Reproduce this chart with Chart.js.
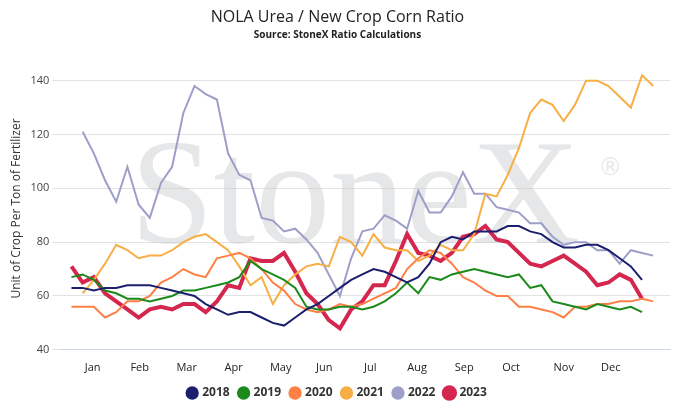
<!DOCTYPE html>
<html><head><meta charset="utf-8">
<script src="https://cdn.jsdelivr.net/npm/chart.js@4"></script>
<style>body{margin:0;background:#fff}#w{width:700px;height:415px}</style>
</head><body><div id="w"><canvas id="c"></canvas></div>
<script>
// weekly ratios, x = week number
const monthLabels = ['Jan','Feb','Mar','Apr','May','Jun','Jul','Aug','Sep','Oct','Nov','Dec'];
const monthWeeks = [2.9, 7.1, 11.3, 15.5, 19.7, 23.6, 27.7, 31.9, 36.1, 40.3, 45, 49.2];

const r2018 = [63,63,62,63,63,64,64,64,63,62,61,60,57,55,53,54,54,52,50,49,52,55,57,60,63,66,68,70,69,67,65,67,72,80,82,81,84,84,84,86,86,84,83,80,78,78,79,79,77,74,71,66];
const r2019 = [67,68,66,62,61,59,59,58,59,60,62,62,63,64,65,67,73,70,68,66,63,56,55,55,56,56,55,56,58,61,65,61,67,66,68,69,70,69,68,67,68,63,64,58,57,56,55,57,56,55,56,54];
const r2020 = [56,56,56,52,54,58,58,60,65,67,70,68,67,74,75,76,74,70,65,62,57,55,54,55,57,56,57,59,61,63,70,74,77,76,72,67,65,62,60,60,56,56,55,54,52,56,56,57,57,58,58,59,58];
const r2021 = [61,66,72,79,77,74,75,75,77,80,82,83,80,77,71,64,67,57,64,68,71,72,71,82,80,75,83,78,77,77,73,75,79,77,77,83,98,97,105,115,128,133,131,125,131,140,140,138,134,130,142,138];
const r2022 = [121,113,103,95,108,94,89,102,108,128,138,135,133,113,105,103,89,88,84,85,81,76,68,60,74,84,85,90,88,85,99,91,91,97,106,98,98,93,92,91,87,87,82,79,80,80,77,77,72,77,76,75];
const r2023 = [71,65,67,61,58,55,52,55,56,55,57,57,54,58,64,63,74,73,73,76,69,61,57,51,48,55,58,64,64,73,83,76,75,73,76,82,83,86,81,80,76,72,71,73,75,72,69,64,65,68,66,59];

const pts = (arr, start) => arr.map((v, i) => ({x: start + i, y: v}));
const ds = (label, arr, start, color, w) => ({label, data: pts(arr, start), borderColor: color, backgroundColor: color,
  borderWidth: w, pointRadius: 0, tension: 0, fill: false});

const watermark = {
  id: 'watermark',
  beforeDatasetsDraw(chart) {
    const {ctx, chartArea: {left, right, top, bottom}} = chart;
    ctx.save();
    ctx.fillStyle = 'rgba(200,202,206,0.45)';
    ctx.font = '150px "Liberation Serif", serif';
    ctx.textAlign = 'center';
    ctx.textBaseline = 'middle';
    const cx = (left + right) / 2, cy = (top + bottom) / 2 - 5;
    ctx.fillText('StoneX', cx - 10, cy);
    ctx.font = '24px "DejaVu Sans", sans-serif';
    ctx.fillText('®', cx + 245, cy - 35);
    ctx.restore();
  }
};

new Chart(document.getElementById('c'), {
  type: 'line',
  data: {datasets: [
    ds('2018', r2018, 1, '#1b1f6e', 2),
    ds('2019', r2019, 1, '#1b8a1b', 2),
    ds('2020', r2020, 1, '#ff7f45', 2),
    ds('2021', r2021, 2, '#f7ae45', 2),
    ds('2022', r2022, 2, '#9d9fc9', 2),
    ds('2023', r2023, 1, '#d4264e', 4)
  ]},
  options: {
    responsive: true, maintainAspectRatio: false, animation: false,
    layout: {padding: {left: 5, right: 30, top: 0, bottom: 6}},
    scales: {
      x: {type: 'linear', min: 0, max: 54.5,
        afterBuildTicks: s => { s.ticks = monthWeeks.map(v => ({value: v})); },
        ticks: {callback: (v, i) => monthLabels[i], font: {size: 11, family: 'Open Sans'}, color: '#222', maxRotation: 0, autoSkip: false},
        grid: {display: false}, border: {color: '#ccd6eb'}},
      y: {min: 40, max: 145,
        afterBuildTicks: s => { s.ticks = [40,60,80,100,120,140].map(v => ({value: v})); },
        ticks: {font: {size: 11, family: 'Open Sans'}, color: '#444'},
        grid: {color: '#e2e2e2'}, border: {display: false},
        title: {display: true, text: 'Unit of Crop Per Ton of Fertilizer', font: {size: 12, family: 'Open Sans'}, color: '#333'}}
    },
    plugins: {
      title: {display: true, text: 'NOLA Urea / New Crop Corn Ratio', font: {size: 16, family: 'Open Sans', weight: 'normal'}, color: '#222', padding: {top: 8, bottom: 2}},
      subtitle: {display: true, text: 'Source: StoneX Ratio Calculations', font: {size: 10, family: 'Open Sans', weight: 'bold'}, color: '#222', padding: {bottom: 26}},
      legend: {position: 'bottom', labels: {padding: 10, usePointStyle: true, pointStyle: 'circle', boxWidth: 8, boxHeight: 8, font: {size: 12, family: 'Open Sans', weight: 'bold'}, color: '#333'}},
      tooltip: {enabled: false}
    }
  },
  plugins: [watermark]
});
</script></body></html>
